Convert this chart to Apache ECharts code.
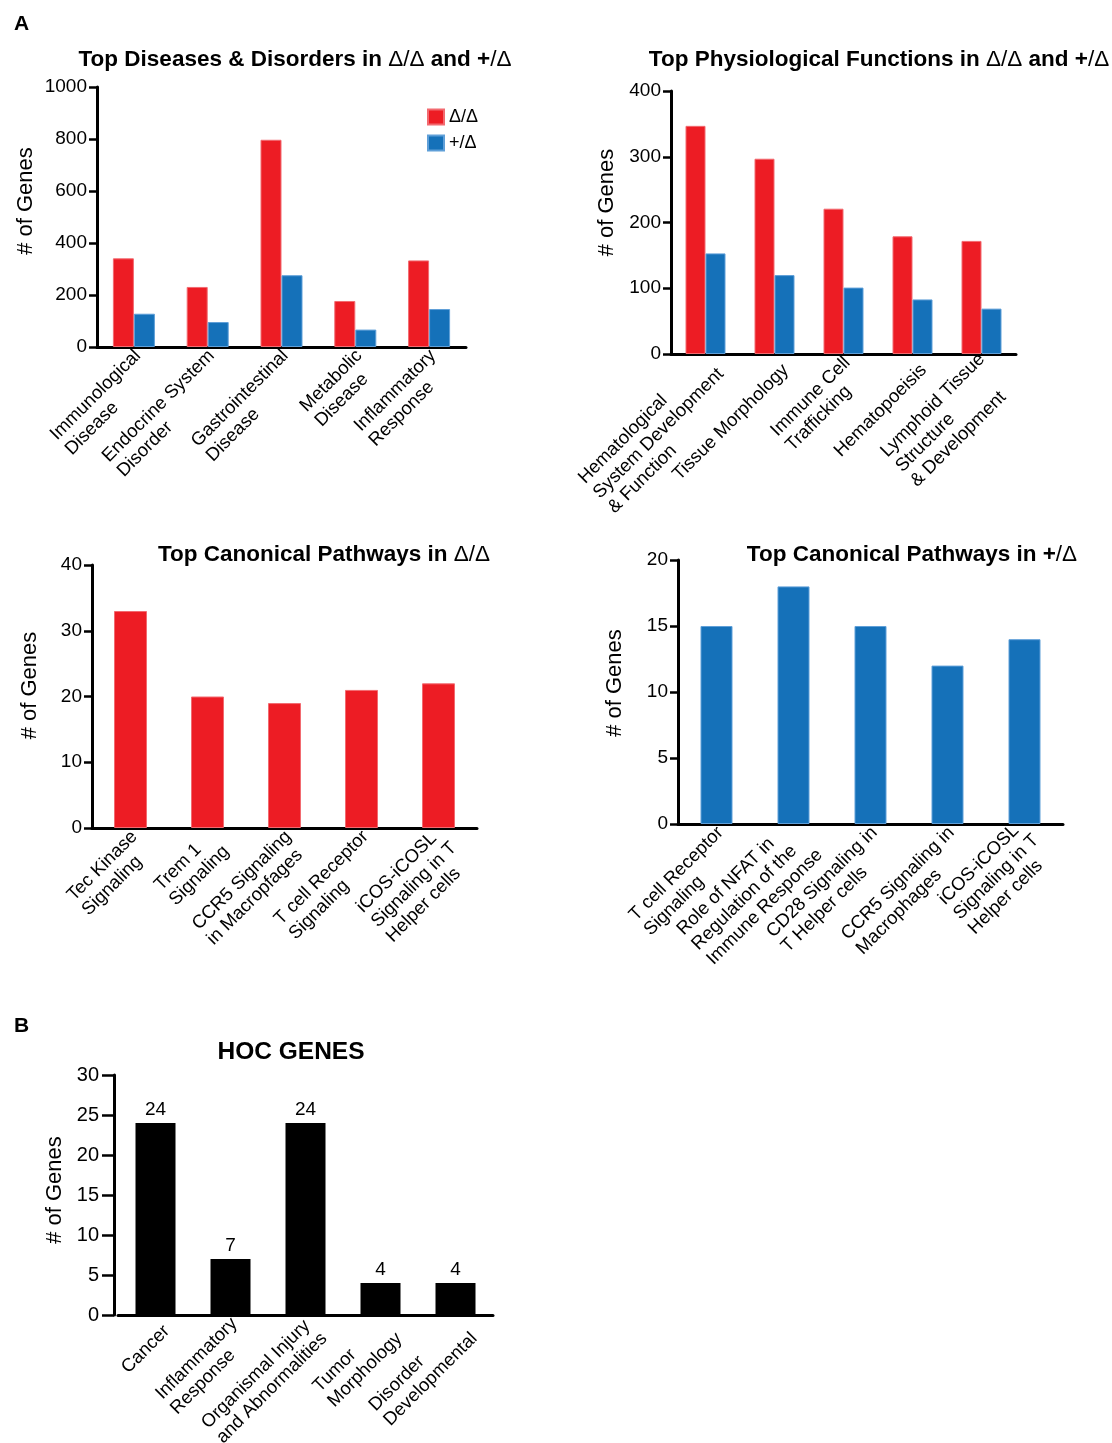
<!DOCTYPE html>
<html>
<head>
<meta charset="utf-8">
<script src="https://cdn.jsdelivr.net/npm/echarts@6/dist/echarts.min.js"></script>
<style>
  html, body { margin: 0; padding: 0; background: #fff; }
  #chart { width: 1112px; height: 1443px; }
</style>
</head>
<body>
<div id="chart"></div>
<script>
// ---- data ----
const diseaseCats = ['Immunological\nDisease', 'Endocrine System\nDisorder', 'Gastrointestinal\nDisease', 'Metabolic\nDisease', 'Inflammatory\nResponse']
const diseaseDD = [341, 231, 797, 177, 333]
const diseasePD = [128, 96, 276, 67, 146]

const physioCats = ['Hematological\nSystem Development\n& Function', 'Tissue Morphology', 'Immune Cell\nTrafficking', 'Hematopoeisis', 'Lymphoid Tissue\nStructure\n& Development']
const physioDD = [347, 297, 221, 179, 172]
const physioPD = [153, 120, 101, 83, 69]

const canonDDCats = ['Tec Kinase\nSignaling', 'Trem 1\nSignaling', 'CCR5 Signaling\nin Macropfages', 'T cell Receptor\nSignaling', 'iCOS-iCOSL\nSignaling in T\nHelper cells']
const canonDD = [33, 20, 19, 21, 22]

const canonPDCats = ['T cell Receptor\nSignaling', 'Role of NFAT in\nRegulation of the\nImmune Response', 'CD28 Signaling in\nT Helper cells', 'CCR5 Signaling in\nMacrophages', 'iCOS-iCOSL\nSignaling in T\nHelper cells']
const canonPD = [15, 18, 15, 12, 14]

const hocCats = ['Cancer', 'Inflammatory\nResponse', 'Organismal Injury\nand Abnormalities', 'Tumor\nMorphology', 'Disorder\nDevelopmental']
const hocGenes = [24, 7, 24, 4, 4]

const FONT = '"Liberation Sans", Arial, Helvetica, sans-serif'
const RED = '#ED1C24'
const BLUE = '#1571B9'

// 类目标签: 旋转45度, 行内左对齐, 整块右对齐
// 三行标签可略向下移 (pad3)
function catAxis (grid, cats, pad3) {
  return {
    type: 'category',
    gridIndex: grid,
    data: cats.map(c => (pad3 && c.split('\n').length > 2) ? { value: c, textStyle: { padding: [pad3, 0, 0, 0] } } : c),
    axisTick: { show: false },
    axisLine: { lineStyle: { color: '#000', width: 3 } },
    axisLabel: {
      interval: 0,
      rotate: 45,
      align: 'right',
      verticalAlign: 'middle',
      margin: 2,
      padding: [32, 0, 0, 0],
      color: '#000',
      formatter: v => v.split('\n').map(s => '{l|' + s + '}').join('\n'),
      rich: { l: { align: 'left', fontSize: 18.5, lineHeight: 21, fontFamily: FONT, color: '#000' } }
    }
  }
}

function valAxis (grid, max, interval, opt) {
  return {
    type: 'value',
    gridIndex: grid,
    min: 0,
    max: max,
    interval: interval,
    offset: opt.offset || 0,
    name: '# of Genes',
    nameLocation: 'middle',
    nameRotate: 90,
    nameGap: opt.gap,
    nameTextStyle: { fontSize: 22, fontFamily: FONT, color: '#000', padding: [0, 0, 0, opt.up || 0] },
    splitLine: { show: false },
    axisLine: { show: true, lineStyle: { color: '#000', width: 3 } },
    axisTick: { show: true, length: opt.tick || 8, lineStyle: { color: '#000', width: 2.5 } },
    axisLabel: { fontSize: opt.fs || 19, fontFamily: FONT, color: '#000', margin: opt.margin || 10, formatter: v => String(v) }
  }
}

function title (text, left, top, size) {
  return {
    text: text,
    left: left,
    top: top,
    textAlign: 'center',
    textStyle: {
      fontSize: size || 22.5,
      fontWeight: 'bold',
      fontFamily: FONT,
      color: '#000',
      rich: { d: { fontSize: size || 22.5, fontWeight: 'normal', fontFamily: FONT, color: '#000' } }
    }
  }
}

const redStyle = { color: RED, borderColor: '#f26a70', borderWidth: 1 }
const blueStyle = { color: BLUE, borderColor: '#5f9fd8', borderWidth: 1 }

function grid (left, top, width, height) {
  return { left: left, top: top, width: width, height: height, outerBoundsMode: 'none', containLabel: false }
}

const option = {
  animation: false,
  backgroundColor: '#fff',
  textStyle: { fontFamily: FONT },
  title: [
    { text: 'A', left: 9, top: 9, textStyle: { fontSize: 21, fontWeight: 'bold', fontFamily: FONT, color: '#000' } },
    { text: 'B', left: 9, top: 1011, textStyle: { fontSize: 21, fontWeight: 'bold', fontFamily: FONT, color: '#000' } },
    title('Top Diseases & Disorders in {d|Δ/Δ} and +{d|/Δ}', 290, 43),
    title('Top Physiological Functions in {d|Δ/Δ} and +{d|/Δ}', 874, 43),
    title('Top Canonical Pathways in {d|Δ/Δ}', 319, 538),
    title('Top Canonical Pathways in +{d|/Δ}', 907, 538),
    title('HOC GENES', 286, 1035, 24.5)
  ],
  legend: {
    orient: 'vertical',
    left: 427,
    top: 108,
    padding: 0,
    icon: 'rect',
    itemWidth: 16,
    itemHeight: 15,
    itemGap: 8,
    data: ['Δ/Δ', '+/Δ'],
    textStyle: { fontSize: 18, fontFamily: FONT, color: '#000' }
  },
  grid: [
    grid(97, 87, 369, 260),
    grid(671, 91, 345, 263),
    grid(92, 565, 385, 263),
    grid(678, 560, 385, 264),
    grid(118, 1075, 375, 240)
  ],
  xAxis: [
    catAxis(0, diseaseCats),
    catAxis(1, physioCats, 43),
    catAxis(2, canonDDCats, 43),
    catAxis(3, canonPDCats),
    catAxis(4, hocCats)
  ],
  yAxis: [
    valAxis(0, 1000, 200, { gap: 60, up: 32 }),
    valAxis(1, 400, 100, { gap: 53, up: 40 }),
    valAxis(2, 40, 10, { gap: 51, up: 22 }),
    valAxis(3, 20, 5, { gap: 52, up: 18 }),
    valAxis(4, 30, 5, { gap: 48, up: 10, fs: 20, offset: 4, tick: 12, margin: 15 })
  ],
  series: [
    { name: 'Δ/Δ', type: 'bar', xAxisIndex: 0, yAxisIndex: 0, data: diseaseDD, barWidth: 21, barGap: '0%', itemStyle: redStyle },
    { name: '+/Δ', type: 'bar', xAxisIndex: 0, yAxisIndex: 0, data: diseasePD, barWidth: 21, barGap: '0%', itemStyle: blueStyle },
    { name: 'Δ/Δ', type: 'bar', xAxisIndex: 1, yAxisIndex: 1, data: physioDD, barWidth: 20, barGap: '0%', itemStyle: redStyle },
    { name: '+/Δ', type: 'bar', xAxisIndex: 1, yAxisIndex: 1, data: physioPD, barWidth: 20, barGap: '0%', itemStyle: blueStyle },
    { name: 'canonDD', type: 'bar', xAxisIndex: 2, yAxisIndex: 2, data: canonDD, barWidth: 33, itemStyle: redStyle },
    { name: 'canonPD', type: 'bar', xAxisIndex: 3, yAxisIndex: 3, data: canonPD, barWidth: 32, itemStyle: blueStyle },
    {
      name: 'hoc',
      type: 'bar',
      xAxisIndex: 4,
      yAxisIndex: 4,
      data: hocGenes,
      barWidth: 40,
      itemStyle: { color: '#000' },
      label: { show: true, position: 'top', distance: 4, fontSize: 19, fontFamily: FONT, color: '#000' }
    }
  ]
}

const chart = echarts.init(document.getElementById('chart'))
chart.setOption(option)
</script>
</body>
</html>
